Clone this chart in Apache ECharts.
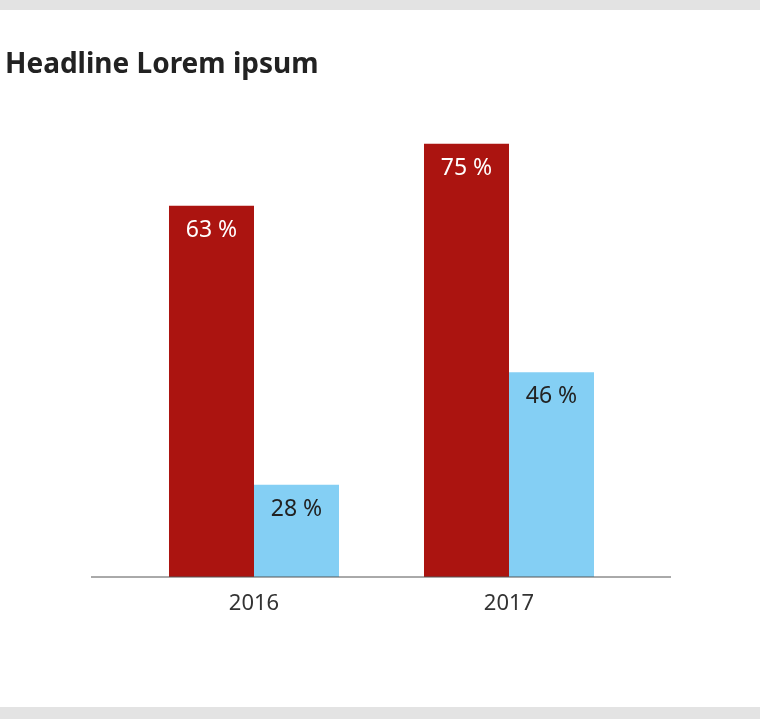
<!DOCTYPE html>
<html><head><meta charset="utf-8">
<script src="https://cdn.jsdelivr.net/npm/echarts@6/dist/echarts.min.js"></script>
<style>html,body{margin:0;padding:0;background:#fff}#c{width:760px;height:719px}</style>
</head><body><div id="c"></div>
<script>
const categories = ['2016', '2017'];
const redValues = [64, 74.7];
const blueValues = [15.9, 35.3];
const redLabels = ['63 %', '75 %'];
const blueLabels = ['28 %', '46 %'];
const title = 'Headline Lorem ipsum';
const FONT = '"Noto Sans", sans-serif';
const chart = echarts.init(document.getElementById('c'));
function lbl(arr, color){
  return {show:true, position:'insideTop', distance:13, color:color, fontSize:23, fontFamily:FONT,
    formatter:p=>arr[p.dataIndex]};
}
chart.setOption({
  backgroundColor:'#fff',
  animation:false,
  title:{text:title, left:0, top:46, textStyle:{fontSize:28, fontWeight:'bold', color:'#222', fontFamily:FONT}},
  grid:{left:126.5, width:510, top:113, bottom:142},
  xAxis:{type:'category', data:categories, axisLine:{show:false}, axisTick:{show:false},
    axisLabel:{fontSize:22, color:'#333', fontFamily:FONT, margin:16}},
  yAxis:{type:'value', min:0, max:80, show:false, splitLine:{show:false}},
  series:[
    {type:'bar', data:redValues, barGap:'0%', barCategoryGap:'33.33%', itemStyle:{color:'#ab1410'}, label:lbl(redLabels,'#fff')},
    {type:'bar', data:blueValues, itemStyle:{color:'#84cff4'}, label:lbl(blueLabels,'#222')}
  ],
  graphic:[
    {type:'rect', shape:{x:0,y:0,width:760,height:10}, style:{fill:'#e3e3e3'}},
    {type:'rect', shape:{x:0,y:707,width:760,height:12}, style:{fill:'#e3e3e3'}},
    {type:'line', shape:{x1:91,y1:577,x2:671,y2:577}, style:{stroke:'#555', lineWidth:1}, z:10}
  ]
});
</script></body></html>
